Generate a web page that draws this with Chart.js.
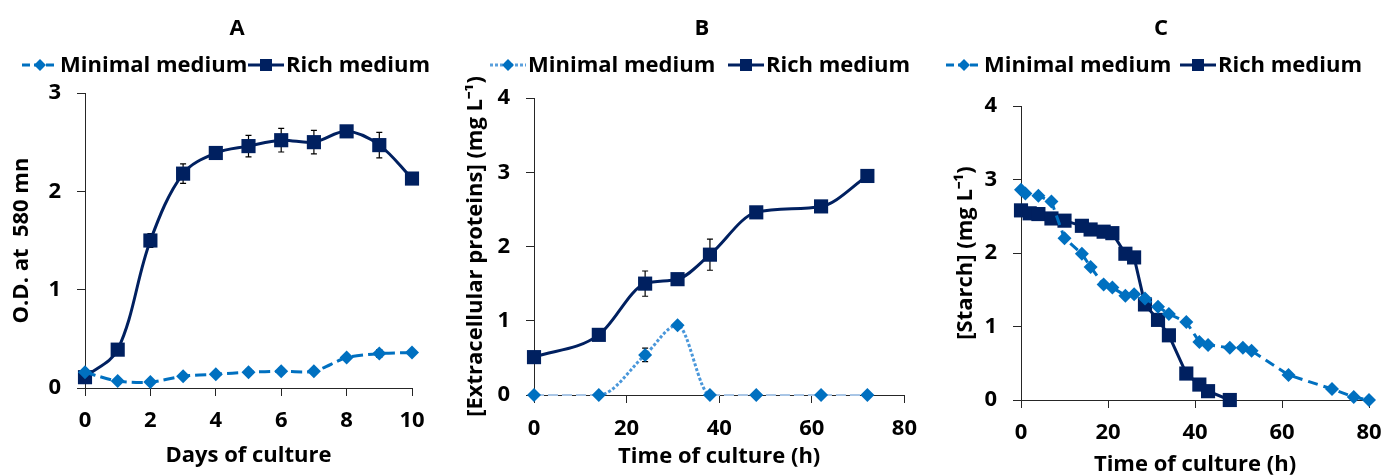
<!DOCTYPE html>
<html>
<head>
<meta charset="utf-8">
<script src="https://cdn.jsdelivr.net/npm/chart.js@4/dist/chart.umd.min.js"></script>
<style>
  body { margin: 0; background: #fff; }
  #wrap { position: relative; width: 1395px; height: 475px; overflow: hidden; }
  #wrap canvas { position: absolute; top: 0; }
</style>
</head>
<body>
<div id="wrap">
  <canvas id="chartA" width="465" height="475" style="left:0px"></canvas>
  <canvas id="chartB" width="465" height="475" style="left:465px"></canvas>
  <canvas id="chartC" width="465" height="475" style="left:930px"></canvas>
</div>
<script>
// ---- data ----
// A: growth (O.D. at 580 nm) vs days
const daysA = [0, 1, 2, 3, 4, 5, 6, 7, 8, 9, 10];
const odMinimal = [0.16, 0.07, 0.06, 0.12, 0.14, 0.16, 0.17, 0.17, 0.31, 0.35, 0.36];
const odMinimalErr = [0, 0, 0, 0, 0.02, 0.03, 0.03, 0.02, 0.03, 0.04, 0.02];
const odRich = [0.11, 0.39, 1.50, 2.18, 2.39, 2.46, 2.52, 2.50, 2.61, 2.47, 2.13];
const odRichErr = [0, 0, 0.07, 0.10, 0.03, 0.11, 0.12, 0.12, 0.03, 0.13, 0];

// B: extracellular proteins vs hours
const hoursB = [0, 14, 24, 31, 38, 48, 62, 72];
const protMinimal = [0, 0, 0.54, 0.94, 0, 0, 0, 0];
const protMinimalErr = [0, 0, 0.09, 0, 0, 0, 0, 0];
const protRich = [0.51, 0.81, 1.50, 1.56, 1.89, 2.46, 2.54, 2.95];
const protRichErr = [0, 0, 0.17, 0, 0.21, 0, 0, 0.05];

// C: starch vs hours
const hoursCMinimal = [0, 1, 4, 7, 10, 14, 16, 19, 21, 24, 26, 28.5, 31.5, 34, 38, 41, 43, 48, 51, 53, 61.5, 71.5, 76.5, 80];
const starchMinimal = [2.86, 2.81, 2.78, 2.70, 2.20, 1.99, 1.81, 1.57, 1.53, 1.42, 1.44, 1.38, 1.27, 1.17, 1.06, 0.79, 0.75, 0.71, 0.71, 0.67, 0.34, 0.15, 0.04, 0.0];
const hoursCRich = [0, 2, 4, 7, 10, 14, 16, 19, 21, 24, 26, 28.5, 31.5, 34, 38, 41, 43, 48];
const starchRich = [2.58, 2.54, 2.53, 2.47, 2.44, 2.37, 2.32, 2.29, 2.27, 1.99, 1.94, 1.30, 1.09, 0.88, 0.36, 0.21, 0.12, 0.0];

const panelTitles = ['A', 'B', 'C'];
const seriesLabels = ['Minimal medium', 'Rich medium'];
const yTitles = ['O.D. at  580 mn', '[Extracellular proteins] (mg L\u207B\u00B9)', '[Starch] (mg L\u207B\u00B9)'];
const xTitles = ['Days of culture', 'Time of culture (h)', 'Time of culture (h)'];

const FONT = '"Open Sans", "Liberation Sans", sans-serif';
const MIN_COLOR = '#0070C0';
const RICH_COLOR = '#002060';
const AXIS_COLOR = '#262626';

const toPoints = (xs, ys) => xs.map((x, i) => ({x: x, y: ys[i]}));
const boldFont = size => ({family: FONT, size: size, weight: 'bold'});

// error bars, drawn through the chart scales
const errorBarPlugin = {
  id: 'errorBars',
  beforeDatasetsDraw(chart) {
    const ctx = chart.ctx;
    const yScale = chart.scales.y;
    ctx.save();
    ctx.strokeStyle = '#000';
    ctx.lineWidth = 1.2;
    chart.data.datasets.forEach((ds, di) => {
      if (!ds.errors) return;
      const meta = chart.getDatasetMeta(di);
      meta.data.forEach((pt, i) => {
        const e = ds.errors[i];
        if (!e) return;
        const v = ds.data[i].y;
        const top = yScale.getPixelForValue(v + e);
        const bot = yScale.getPixelForValue(v - e);
        ctx.beginPath();
        ctx.moveTo(pt.x, top); ctx.lineTo(pt.x, bot);
        ctx.moveTo(pt.x - 3, top); ctx.lineTo(pt.x + 3, top);
        ctx.moveTo(pt.x - 3, bot); ctx.lineTo(pt.x + 3, bot);
        ctx.stroke();
      });
    });
    ctx.restore();
  }
};

// panel letter + Excel-style legend (line sample with marker in the middle)
const headerPlugin = {
  id: 'panelHeader',
  afterDraw(chart, args, opts) {
    const ctx = chart.ctx;
    ctx.save();
    ctx.font = 'bold 22px ' + FONT;
    ctx.fillStyle = '#000';
    ctx.textBaseline = 'middle';
    ctx.textAlign = 'center';
    ctx.fillText(opts.title, opts.titleX, 29);
    ctx.textAlign = 'left';
    chart.data.datasets.forEach((ds, i) => {
      const x0 = opts.legendX[i];
      const y = 65;
      ctx.save();
      ctx.strokeStyle = ds.legendColor || ds.borderColor;
      ctx.lineWidth = 3;
      ctx.setLineDash(ds.legendDash || []);
      ctx.beginPath();
      ctx.moveTo(x0, y); ctx.lineTo(x0 + 36, y);
      ctx.stroke();
      ctx.restore();
      ctx.fillStyle = ds.pointBackgroundColor;
      Chart.helpers.drawPoint(ctx, {pointStyle: ds.pointStyle, radius: ds.pointRadius * 0.85, rotation: 0, borderWidth: 0}, x0 + 18, y);
      ctx.fillStyle = '#000';
      ctx.fillText(ds.label, x0 + 38, y + 1);
    });
    ctx.restore();
  }
};

function makeChart(id, cfg) {
  return new Chart(document.getElementById(id), {
    type: 'line',
    data: {datasets: cfg.datasets},
    options: {
      responsive: false,
      animation: false,
      devicePixelRatio: 1,
      layout: {padding: {left: 0, right: cfg.padRight, top: cfg.top, bottom: 0}},
      plugins: {
        legend: {display: false},
        tooltip: {enabled: false},
        panelHeader: {title: cfg.title, titleX: cfg.titleX, legendX: cfg.legendX}
      },
      scales: {
        x: {
          type: 'linear',
          min: cfg.xMin, max: cfg.xMax,
          ticks: {stepSize: cfg.xStep, padding: cfg.xTickPad, color: '#000', font: boldFont(22)},
          grid: {drawOnChartArea: false, drawTicks: true, tickLength: 8, color: AXIS_COLOR},
          border: {color: AXIS_COLOR, width: 1},
          title: {display: true, text: cfg.xTitle, color: '#000', font: boldFont(22), padding: {top: 0, bottom: cfg.xTitlePad}},
          afterFit: s => { s.height = 475 - cfg.bottom; }
        },
        y: {
          type: 'linear',
          min: 0, max: cfg.yMax,
          ticks: {stepSize: 1, padding: 16, color: '#000', font: boldFont(22)},
          grid: {drawOnChartArea: false, drawTicks: true, tickLength: 8, color: AXIS_COLOR},
          border: {color: AXIS_COLOR, width: 1},
          title: {display: true, text: cfg.yTitle, color: '#000', font: boldFont(22), padding: {top: cfg.yTitlePad, bottom: 0}},
          afterFit: s => { s.width = cfg.left; }
        }
      }
    },
    plugins: [errorBarPlugin, headerPlugin]
  });
}

const minimalStyle = {
  borderColor: MIN_COLOR, backgroundColor: MIN_COLOR,
  pointBackgroundColor: MIN_COLOR, pointBorderWidth: 0,
  pointStyle: 'rectRot', pointRadius: 7, borderWidth: 3, clip: false
};
const richStyle = {
  borderColor: RICH_COLOR, backgroundColor: RICH_COLOR,
  pointBackgroundColor: RICH_COLOR, pointBorderWidth: 0,
  pointStyle: 'rect', pointRadius: 10, borderWidth: 3, clip: false
};

// Panel A
makeChart('chartA', {
  title: panelTitles[0], titleX: 237, legendX: [22, 248],
  left: 85, padRight: 53, top: 93, bottom: 388,
  xMin: 0, xMax: 10, xStep: 2, yMax: 3,
  xTickPad: 12, xTitlePad: 6, yTitlePad: 9,
  xTitle: xTitles[0], yTitle: yTitles[0],
  datasets: [
    Object.assign({label: seriesLabels[0], data: toPoints(daysA, odMinimal), errors: odMinimalErr,
      borderDash: [11, 5], legendDash: [8, 4], tension: 0.25}, minimalStyle),
    Object.assign({label: seriesLabels[1], data: toPoints(daysA, odRich), errors: odRichErr,
      tension: 0.35}, richStyle)
  ]
});

// Panel B
const isPeak = c => c.p0.parsed.y > 0 || c.p1.parsed.y > 0;
makeChart('chartB', {
  title: panelTitles[1], titleX: 237, legendX: [25, 263],
  left: 69, padRight: 15, top: 98, bottom: 395,
  xMin: 0, xMax: 80, xStep: 20, yMax: 4,
  xTickPad: 13, xTitlePad: 5, yTitlePad: -2,
  xTitle: xTitles[1], yTitle: yTitles[1],
  datasets: [
    Object.assign({}, minimalStyle, {label: seriesLabels[0], data: toPoints(hoursB, protMinimal), errors: protMinimalErr,
      borderWidth: 2, cubicInterpolationMode: 'monotone', legendColor: '#5a9fdc', legendDash: [3, 2],
      segment: {
        borderDash: c => isPeak(c) ? [3, 2] : [10, 4],
        borderColor: c => isPeak(c) ? '#4a97da' : '#a9c6e6',
        borderWidth: c => isPeak(c) ? 3 : 2
      }}),
    Object.assign({label: seriesLabels[1], data: toPoints(hoursB, protRich), errors: protRichErr,
      cubicInterpolationMode: 'monotone'}, richStyle)
  ]
});

// Panel C
makeChart('chartC', {
  title: panelTitles[2], titleX: 231, legendX: [16, 250],
  left: 91, padRight: 26, top: 106, bottom: 400,
  xMin: 0, xMax: 80, xStep: 20, yMax: 4,
  xTickPad: 12, xTitlePad: -3, yTitlePad: 23,
  xTitle: xTitles[2], yTitle: yTitles[2],
  datasets: [
    Object.assign({label: seriesLabels[0], data: toPoints(hoursCMinimal, starchMinimal),
      borderDash: [10, 6], legendDash: [8, 4], tension: 0}, minimalStyle),
    Object.assign({label: seriesLabels[1], data: toPoints(hoursCRich, starchRich),
      tension: 0}, richStyle)
  ]
});
</script>
</body>
</html>
